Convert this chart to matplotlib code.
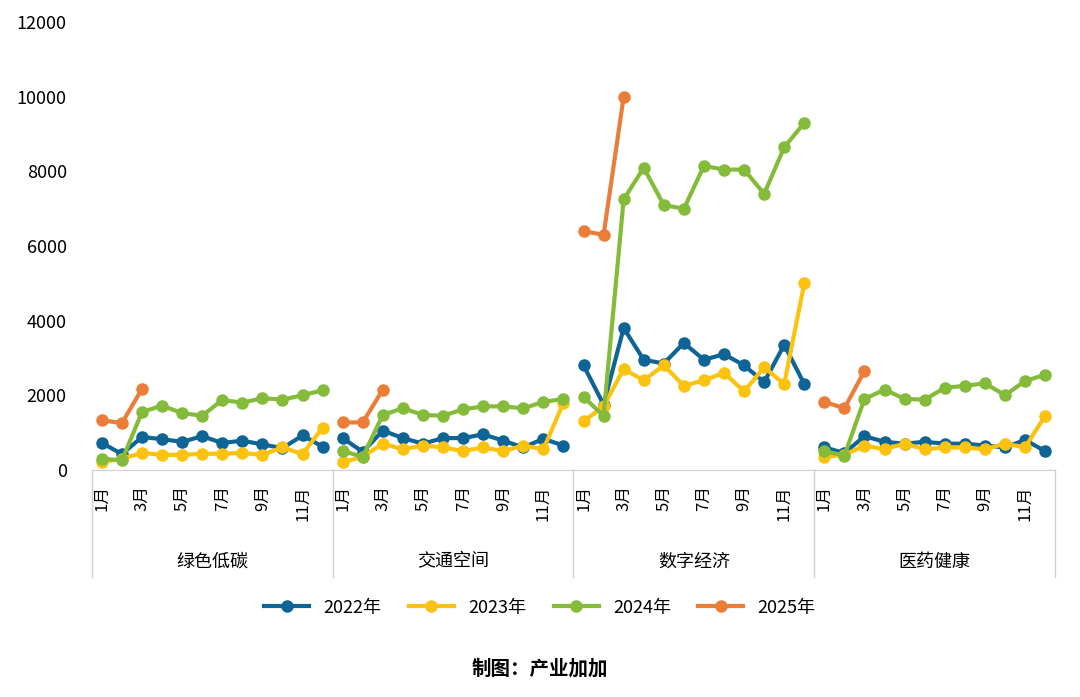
import numpy as np
import matplotlib.pyplot as plt
import matplotlib.transforms as mtransforms

plt.rcParams['font.family'] = ['Noto Sans CJK SC']

groups = ['绿色低碳', '交通空间', '数字经济', '医药健康']
months = ['1月', '2月', '3月', '4月', '5月', '6月', '7月', '8月', '9月', '10月', '11月', '12月']
years = ['2022年', '2023年', '2024年', '2025年']
colors = ['#0f6496', '#fbc210', '#84bb3a', '#ea7e39']

y2022 = [[720, 420, 880, 820, 750, 900, 720, 780, 680, 580, 920, 620],
         [850, 480, 1050, 850, 700, 850, 850, 950, 780, 600, 830, 650],
         [2800, 1750, 3800, 2950, 2850, 3400, 2950, 3100, 2800, 2350, 3350, 2300],
         [600, 450, 900, 750, 700, 750, 700, 700, 650, 600, 800, 500]]
y2023 = [[200, 300, 450, 400, 400, 430, 430, 450, 400, 600, 420, 1130],
         [200, 350, 700, 550, 650, 600, 500, 600, 500, 650, 550, 1800],
         [1300, 1700, 2700, 2400, 2800, 2250, 2400, 2600, 2100, 2750, 2300, 5000],
         [350, 400, 650, 550, 700, 550, 600, 600, 550, 700, 600, 1450]]
y2024 = [[300, 250, 1550, 1720, 1520, 1450, 1870, 1800, 1920, 1880, 2000, 2130],
         [500, 350, 1470, 1650, 1470, 1450, 1620, 1700, 1700, 1650, 1820, 1900],
         [1950, 1450, 7250, 8100, 7100, 7000, 8150, 8050, 8050, 7400, 8650, 9300],
         [500, 380, 1900, 2150, 1900, 1880, 2200, 2250, 2320, 2000, 2380, 2550]]
y2025 = [[1330, 1250, 2170],
         [1270, 1270, 2150],
         [6400, 6300, 10000],
         [1820, 1650, 2650]]

fig = plt.figure(figsize=(10.8, 6.97), dpi=100)
ax = fig.add_axes([0.085, 0.326, 0.892, 0.642])

series = [y2022, y2023, y2024, y2025]
for s, (data, c, lab) in enumerate(zip(series, colors, years)):
    for g in range(4):
        x = np.arange(len(data[g])) + g * 12
        ax.plot(x, data[g], color=c, lw=3, marker='o', ms=8,
                label=lab if g == 0 else None, clip_on=False)

ax.set_xlim(-0.5, 47.5)
ax.set_ylim(0, 12000)
ax.set_yticks(range(0, 12001, 2000))
ax.tick_params(axis='y', length=0, labelsize=13, pad=18)
ax.set_xticks([])
for sp in ['top', 'right', 'left']:
    ax.spines[sp].set_visible(False)
ax.spines['bottom'].set_color('#d0d0d0')

trans = mtransforms.blended_transform_factory(ax.transData, ax.transAxes)
for g in range(4):
    for m in range(0, 12, 2):
        ax.text(g * 12 + m, -0.035, months[m], transform=trans, rotation=90,
                ha='center', va='top', fontsize=12)
    ax.text(g * 12 + 5.5, -0.205, groups[g], transform=trans,
            ha='center', va='center', fontsize=13)
for b in range(5):
    ax.plot([b * 12 - 0.5] * 2, [0, -0.24], transform=trans, color='#d0d0d0',
            lw=1, clip_on=False)

fig.legend(loc='center', bbox_to_anchor=(0.5, 0.128), ncol=4, frameon=False,
           fontsize=13, handlelength=2.5, columnspacing=1.5)
fig.text(0.5, 0.04, '制图：产业加加', ha='center', va='center',
         fontsize=14, fontweight='bold')

fig.savefig('out.png', dpi=100)
